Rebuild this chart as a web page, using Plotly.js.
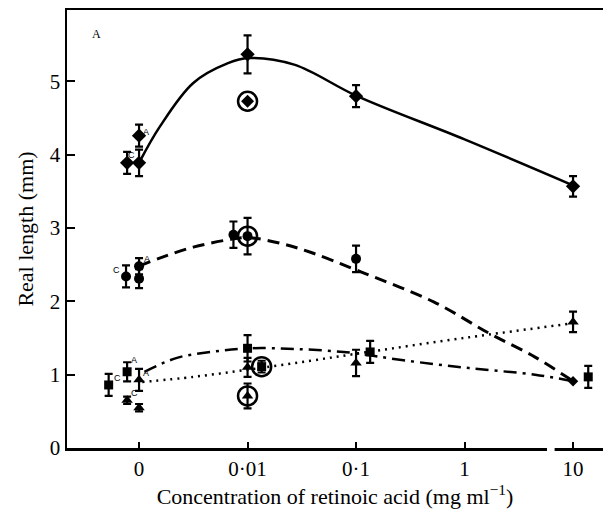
<!DOCTYPE html>
<html><head><meta charset="utf-8">
<script src="https://cdn.plot.ly/plotly-3.0.1.min.js"></script>
<style>body{margin:0;background:#fff}#c{width:603px;height:514px}</style>
</head><body><div id="c"></div>
<script>
// x positions on an index scale: 0 -> "0", 1 -> 0.01, 2 -> 0.1, 3 -> 1, 4 -> 10
var tickVals = [0, 1, 2, 3, 4];
var tickText = ['0', '0·01', '0·1', '1', '10'];

// Diamonds (solid curve)
var diaX = [-0.11, 0, 0, 1, 2, 4];
var diaY = [3.89, 3.89, 4.26, 5.37, 4.80, 3.57];
var diaE = [0.15, 0.18, 0.15, 0.26, 0.15, 0.14];
var diaCircX = [1];
var diaCircY = [4.73];

// Circles (dashed curve)
var cirX = [-0.12, 0, 0, 0.87, 1, 2];
var cirY = [2.34, 2.48, 2.31, 2.91, 2.89, 2.58];
var cirE = [0.15, 0.11, 0.13, 0.18, 0.25, 0.18];
var cirCircX = [1];
var cirCircY = [2.89];
var endX = [4];
var endY = [0.91];

// Squares (dash-dot curve)
var sqX = [-0.28, -0.11, 1, 1.13, 2.13, 4.14];
var sqY = [0.86, 1.04, 1.36, 1.11, 1.31, 0.97];
var sqE = [0.15, 0.13, 0.18, 0.08, 0.15, 0.15];
var sqCircX = [1.13];
var sqCircY = [1.11];

// Triangles (dotted curve)
var triX = [-0.11, 0, 0, 1, 1, 2, 4];
var triY = [0.65, 0.55, 0.93, 1.10, 0.71, 1.16, 1.72];
var triE = [0.05, 0.05, 0.15, 0.13, 0.17, 0.18, 0.14];
var triCircX = [1];
var triCircY = [0.71];

// Fitted curves
var solidX = [0, 0.19, 0.5, 0.82, 1.01, 1.43, 2.01, 3.0, 4.02];
var solidY = [3.89, 4.38, 4.98, 5.25, 5.32, 5.23, 4.80, 4.21, 3.57];
var dashX = [0, 0.19, 0.5, 0.82, 1.0, 1.28, 1.58, 2.05, 2.72, 3.22, 3.65, 3.96, 4.0];
var dashY = [2.48, 2.59, 2.74, 2.84, 2.87, 2.80, 2.67, 2.40, 1.99, 1.57, 1.24, 0.95, 0.91];
var ddX = [0.05, 0.35, 0.66, 1.01, 1.45, 1.95, 2.42, 3.04, 3.65, 4.0];
var ddY = [1.04, 1.23, 1.31, 1.36, 1.35, 1.30, 1.20, 1.09, 1.00, 0.91];
var dotX = [0.03, 0.5, 1.01, 1.58, 2.11, 3.04, 3.99];
var dotY = [0.90, 0.97, 1.07, 1.19, 1.31, 1.51, 1.70];

// Point labels
var lblText = ['C', 'A', 'C', 'A', 'C', 'A', 'C', 'A'];
var lblX = [-0.065, 0.065, -0.21, 0.075, -0.20, -0.046, -0.046, 0.065];
var lblY = [4.00, 4.31, 2.43, 2.58, 0.95, 1.20, 0.75, 1.02];

var K = '#000';
function curve(x, y, dash, w) {
  return {x: x, y: y, mode: 'lines', type: 'scatter', hoverinfo: 'skip',
    line: {color: K, width: w, dash: dash, shape: 'spline', smoothing: 1}};
}
function pts(x, y, e, sym, size) {
  return {x: x, y: y, mode: 'markers', type: 'scatter',
    marker: {symbol: sym, size: size, color: K},
    error_y: {type: 'data', array: e, visible: true, color: K, thickness: 2.2, width: 4}};
}
function ring(x, y) {
  return {x: x, y: y, mode: 'markers', type: 'scatter',
    marker: {symbol: 'circle-open', size: 19, color: K, line: {width: 2.5, color: K}}};
}

var data = [
  curve(solidX, solidY, 'solid', 2.5),
  curve(dashX, dashY, '12px,7px', 3),
  curve(ddX, ddY, '13px,6px,3px,6px', 2.5),
  curve(dotX, dotY, '2px,5px', 2.5),
  pts(diaX, diaY, diaE, 'diamond', 11),
  pts(cirX, cirY, cirE, 'circle', 10),
  pts(sqX, sqY, sqE, 'square', 9),
  pts(triX, triY, triE, 'triangle-up', 10),
  {x: diaCircX, y: diaCircY, mode: 'markers', type: 'scatter', marker: {symbol: 'diamond', size: 10, color: K}},
  {x: endX, y: endY, mode: 'markers', type: 'scatter', marker: {symbol: 'diamond', size: 8, color: K}},
  ring(diaCircX, diaCircY), ring(cirCircX, cirCircY), ring(sqCircX, sqCircY), ring(triCircX, triCircY)
];

var ann = lblText.map(function (t, i) {
  return {x: lblX[i], y: lblY[i], text: t, showarrow: false, xref: 'x', yref: 'y',
    font: {family: 'Liberation Sans', size: 9, color: K}};
});
ann.push({x: -0.39, y: 5.65, text: 'A', showarrow: false, xref: 'x', yref: 'y',
  font: {family: 'Liberation Serif', size: 12, color: K}});

var layout = {
  width: 603, height: 514,
  margin: {l: 67, r: 0, t: 10, b: 66},
  paper_bgcolor: '#fff', plot_bgcolor: '#fff',
  showlegend: false,
  font: {family: 'Liberation Serif', color: K, size: 20},
  xaxis: {range: [-0.664, 4.276], tickvals: tickVals, ticktext: tickText,
    ticks: 'inside', ticklen: 6, tickwidth: 2, tickcolor: K,
    showline: true, linewidth: 2.5, linecolor: K, mirror: true,
    showgrid: false, zeroline: false, tickfont: {size: 21},
    title: {text: 'Concentration of retinoic acid (mg ml<sup>−1</sup>)', font: {size: 22}, standoff: 4}},
  yaxis: {range: [0, 5.975], tickvals: [0, 1, 2, 3, 4, 5],
    ticks: 'inside', ticklen: 8, tickwidth: 2, tickcolor: K,
    showline: true, linewidth: 2.5, linecolor: K,
    showgrid: false, zeroline: false, tickfont: {size: 21},
    title: {text: 'Real length (mm)', font: {size: 22}, standoff: 10}},
  shapes: [{type: 'rect', xref: 'x', yref: 'paper', x0: 3.76, x1: 3.83, y0: -0.01, y1: 0.01,
    fillcolor: '#fff', line: {width: 0}, layer: 'above'}],
  annotations: ann
};
Plotly.newPlot('c', data, layout, {staticPlot: true});
</script></body></html>
